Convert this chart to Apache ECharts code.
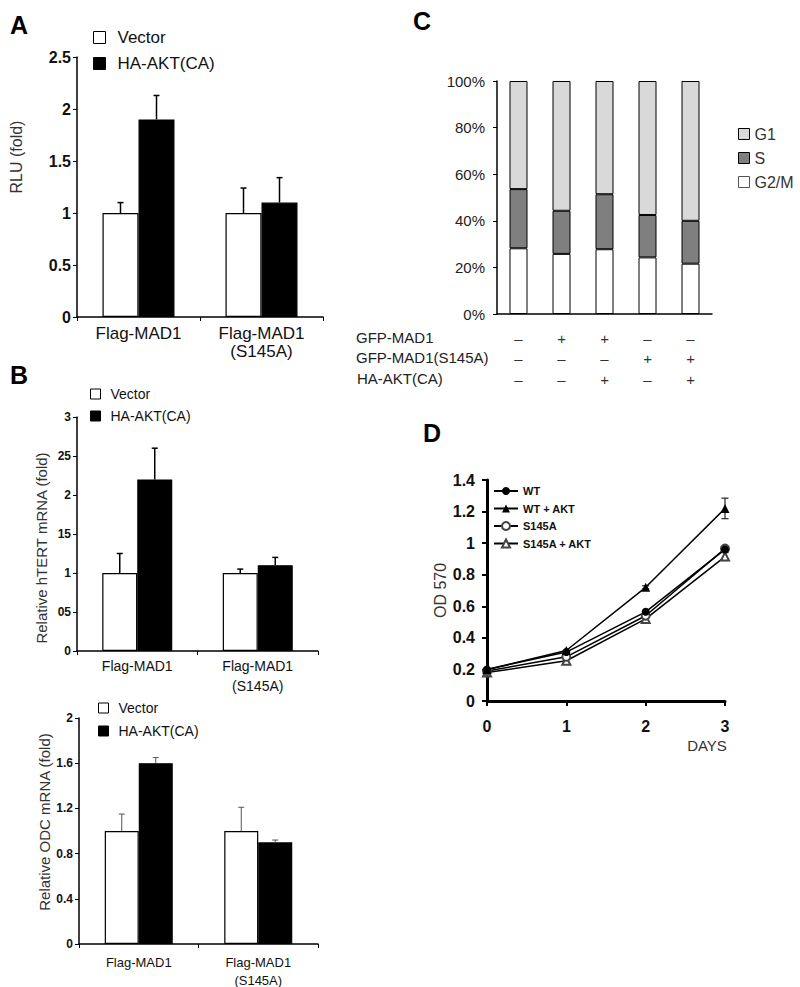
<!DOCTYPE html>
<html><head><meta charset="utf-8">
<script src="https://cdn.jsdelivr.net/npm/echarts@6/dist/echarts.min.js"></script>
<style>html,body{margin:0;padding:0;background:#fff}#c{width:800px;height:987px}</style>
</head><body><div id="c"></div>
<script>
// ---------------- data ----------------
const barCategories = ['Flag-MAD1', 'Flag-MAD1\n(S145A)'];
// Panel A : RLU (fold)
const aVector = [1.0, 1.0];
const aVectorErr = [0.1, 0.24];
const aAkt = [1.9, 1.1];
const aAktErr = [0.23, 0.24];
// Panel B (top) : hTERT
const bTertVector = [1.0, 1.0];
const bTertVectorErr = [0.25, 0.05];
const bTertAkt = [2.2, 1.1];
const bTertAktErr = [0.4, 0.1];
const bTertTickLabels = ['0', '05', '1', '15', '2', '25', '3'];
// Panel B (bottom) : ODC
const bOdcVector = [1.0, 1.0];
const bOdcVectorErr = [0.15, 0.21];
const bOdcAkt = [1.6, 0.9];
const bOdcAktErr = [0.05, 0.02];
// Panel C : cell-cycle distribution (%)
const cConditions = ['1', '2', '3', '4', '5'];
const cG2M = [28.2, 25.8, 27.8, 24.3, 21.6];
const cS = [25.4, 18.5, 23.6, 18.2, 18.4];
const cG1 = [46.4, 55.7, 48.6, 57.5, 60.0];
const cRowNames = ['GFP-MAD1', 'GFP-MAD1(S145A)', 'HA-AKT(CA)'];
const cGfpMad1 = ['–', '+', '+', '–', '–'];
const cGfpMad1S145A = ['–', '–', '–', '+', '+'];
const cHaAkt = ['–', '–', '+', '–', '+'];
// Panel D : OD 570 vs days
const dDays = [0, 1, 2, 3];
const dWT = [0.20, 0.31, 0.565, 0.96];
const dWTAkt = [0.20, 0.32, 0.72, 1.22];
const dS145A = [0.19, 0.28, 0.54, 0.965];
const dS145AAkt = [0.18, 0.255, 0.52, 0.915];
const dWTAktErr = [0, 0, 0.01, 0.065];
const dS145AAktErr = [0, 0, 0.02, 0.025];

// ---------------- chart ----------------
const FF = 'Liberation Sans, Arial, sans-serif';
const chart = echarts.init(document.getElementById('c'), null, {renderer: 'svg'});

function barErr(gi, v0, e0, v1, e1, barW, color, lw) {
  const data = [];
  v0.forEach((v, i) => data.push([i, v, v + e0[i], -1]));
  v1.forEach((v, i) => data.push([i, v, v + e1[i], 1]));
  return {
    type: 'custom', xAxisIndex: gi, yAxisIndex: gi, z: 5, silent: true,
    encode: {x: 0, y: [1, 2]}, data,
    renderItem(params, api) {
      const p0 = api.coord([api.value(0), api.value(1)]);
      const p1 = api.coord([api.value(0), api.value(2)]);
      const x = p0[0] + api.value(3) * barW / 2;
      return {type: 'group', children: [
        {type: 'line', shape: {x1: x, y1: p0[1], x2: x, y2: p1[1]}, style: {stroke: color, lineWidth: lw}},
        {type: 'line', shape: {x1: x - 3, y1: p1[1], x2: x + 3, y2: p1[1]}, style: {stroke: color, lineWidth: lw}}
      ]};
    }
  };
}
function lineErr(gi, xs, vals, errs) {
  const data = [];
  xs.forEach((x, i) => { if (errs[i] > 0) data.push([x, vals[i] - errs[i], vals[i] + errs[i]]); });
  return {
    type: 'custom', xAxisIndex: gi, yAxisIndex: gi, z: 1, silent: true,
    encode: {x: 0, y: [1, 2]}, data,
    renderItem(params, api) {
      const lo = api.coord([api.value(0), api.value(1)]);
      const hi = api.coord([api.value(0), api.value(2)]);
      const st = {stroke: '#222', lineWidth: 1.2};
      return {type: 'group', children: [
        {type: 'line', shape: {x1: lo[0], y1: lo[1], x2: hi[0], y2: hi[1]}, style: st},
        {type: 'line', shape: {x1: hi[0] - 3.5, y1: hi[1], x2: hi[0] + 3.5, y2: hi[1]}, style: st},
        {type: 'line', shape: {x1: lo[0] - 3.5, y1: lo[1], x2: lo[0] + 3.5, y2: lo[1]}, style: st}
      ]};
    }
  };
}

const axLine = (w) => ({show: true, lineStyle: {color: '#000', width: w}});
const tick = (len) => ({show: true, inside: false, length: len, lineStyle: {color: '#000', width: 1}});

function catAxis(gi, fs, lh, margin) {
  return {type: 'category', gridIndex: gi, data: barCategories, boundaryGap: true,
    axisLine: axLine(1.5), axisTick: Object.assign(tick(4), {alignWithLabel: false}),
    axisLabel: {fontFamily: FF, fontSize: fs, color: '#111', lineHeight: lh, margin: margin, interval: 0},
    splitLine: {show: false}};
}
function valAxis(gi, max, interval, fs, name, nameGap, namePad, nameFs, formatter) {
  const ax = {type: 'value', gridIndex: gi, min: 0, max: max, interval: interval,
    axisLine: axLine(1.5), axisTick: tick(4), splitLine: {show: false},
    axisLabel: {fontFamily: FF, fontSize: fs, fontWeight: 'bold', color: '#111', margin: 6},
    name: name, nameLocation: 'middle', nameGap: nameGap,
    nameTextStyle: {fontFamily: FF, fontSize: nameFs, color: '#333', padding: namePad}};
  if (formatter) ax.axisLabel.formatter = formatter;
  return ax;
}

function barLegend(left, top, fs, gap, pad) {
  return {left: left, top: top, orient: 'vertical', padding: 0, itemGap: gap,
    itemWidth: fs < 15 ? 10 : 12, itemHeight: fs < 15 ? 10 : 12, selectedMode: false,
    textStyle: {fontFamily: FF, fontSize: fs, color: '#111', lineHeight: fs, padding: [0, 0, 0, pad]},
    data: [
      {name: 'Vector', icon: 'rect', itemStyle: {color: '#fff', borderColor: '#000', borderWidth: 1}},
      {name: 'HA-AKT(CA)', icon: 'rect', itemStyle: {color: '#000', borderColor: '#000', borderWidth: 1}}
    ]};
}
function barPair(gi, vec, akt, w) {
  return [
    {name: 'Vector', type: 'bar', xAxisIndex: gi, yAxisIndex: gi, data: vec, barWidth: w, barGap: '0%',
      itemStyle: {color: '#fff', borderColor: '#000', borderWidth: 1.2}},
    {name: 'HA-AKT(CA)', type: 'bar', xAxisIndex: gi, yAxisIndex: gi, data: akt, barWidth: w, barGap: '0%',
      itemStyle: {color: '#000', borderColor: '#000', borderWidth: 1.2}}
  ];
}

const letter = (t, x, y) => ({type: 'text', left: x, top: y,
  style: {text: t, font: 'bold 25px ' + FF, fill: '#000'}});
const rowLabel = (t, x, y) => ({type: 'text', left: x, top: y,
  style: {text: t, font: '15px ' + FF, fill: '#222'}});

const option = {
  animation: false,
  backgroundColor: '#fff',
  textStyle: {fontFamily: FF},
  grid: [
    {left: 77, top: 57, width: 246, height: 260, outerBoundsMode: 'none'},
    {left: 77, top: 417, width: 241, height: 234, outerBoundsMode: 'none'},
    {left: 79, top: 718, width: 239, height: 226, outerBoundsMode: 'none'},
    {left: 497, top: 81, width: 215, height: 233, outerBoundsMode: 'none'},
    {left: 487, top: 480, width: 238, height: 221, outerBoundsMode: 'none'}
  ],
  legend: [
    barLegend(93, 29, 17, 9, 7),
    barLegend(90, 387, 14, 8, 5),
    barLegend(98, 701, 14, 9, 5),
    {left: 738, top: 126, orient: 'vertical', padding: 0, itemGap: 8, itemWidth: 11, itemHeight: 11,
      selectedMode: false,
      textStyle: {fontFamily: FF, fontSize: 16, color: '#333', lineHeight: 16},
      data: [
        {name: 'G1', icon: 'rect', itemStyle: {color: '#d9d9d9', borderColor: '#000', borderWidth: 1}},
        {name: 'S', icon: 'rect', itemStyle: {color: '#7f7f7f', borderColor: '#000', borderWidth: 1}},
        {name: 'G2/M', icon: 'rect', itemStyle: {color: '#fff', borderColor: '#555', borderWidth: 1}}
      ]},
    {left: 493, top: 485, orient: 'vertical', padding: 0, itemGap: 5.5, itemWidth: 24, itemHeight: 10,
      selectedMode: false,
      textStyle: {fontFamily: FF, fontSize: 11, fontWeight: 'bold', color: '#111', lineHeight: 12},
      data: ['WT', 'WT + AKT', 'S145A', 'S145A + AKT']}
  ],
  xAxis: [
    catAxis(0, 17, 18, 7),
    catAxis(1, 14, 20, 5),
    catAxis(2, 13, 18, 9),
    {type: 'category', gridIndex: 3, data: cConditions, boundaryGap: true,
      axisLine: axLine(1.5), axisTick: {show: false}, splitLine: {show: false},
      axisLabel: {fontFamily: FF, fontSize: 15, color: '#333', lineHeight: 20.5, margin: 14, interval: 0,
        formatter: (v, i) => cGfpMad1[i] + '\n' + cGfpMad1S145A[i] + '\n' + cHaAkt[i]}},
    {type: 'value', gridIndex: 4, min: 0, max: 3, interval: 1,
      axisLine: axLine(3), axisTick: {show: true, length: 5, lineStyle: {color: '#000', width: 2}},
      splitLine: {show: false},
      axisLabel: {fontFamily: FF, fontSize: 16, fontWeight: 'bold', color: '#111', margin: 17},
      name: 'DAYS', nameLocation: 'middle', nameGap: 37,
      nameTextStyle: {fontFamily: FF, fontSize: 15, color: '#333', padding: [0, 0, 0, 202]}}
  ],
  yAxis: [
    valAxis(0, 2.5, 0.5, 16, 'RLU (fold)', 53, [0, 0, 0, 60], 16),
    valAxis(1, 3, 0.5, 12, 'Relative hTERT mRNA (fold)', 28, [0, 28, 0, 0], 15,
      (v) => bTertTickLabels[Math.round(v / 0.5)]),
    valAxis(2, 2, 0.4, 12, 'Relative ODC mRNA (fold)', 25, [0, 0, 0, 18], 15),
    {type: 'value', gridIndex: 3, min: 0, max: 100, interval: 20,
      axisLine: axLine(1.5), axisTick: tick(4), splitLine: {show: false},
      axisLabel: {fontFamily: FF, fontSize: 15, color: '#222', margin: 12, formatter: '{value}%'}},
    {type: 'value', gridIndex: 4, min: 0, max: 1.4, interval: 0.2,
      axisLine: axLine(3), axisTick: {show: true, length: 5, lineStyle: {color: '#000', width: 2}},
      splitLine: {show: false},
      axisLabel: {fontFamily: FF, fontSize: 16, fontWeight: 'bold', color: '#111', margin: 12},
      name: 'OD 570', nameLocation: 'middle', nameGap: 37,
      nameTextStyle: {fontFamily: FF, fontSize: 16, color: '#333'}}
  ],
  series: [
    ...barPair(0, aVector, aAkt, 36),
    barErr(0, aVector, aVectorErr, aAkt, aAktErr, 36, '#000', 1.5),
    ...barPair(1, bTertVector, bTertAkt, 35),
    barErr(1, bTertVector, bTertVectorErr, bTertAkt, bTertAktErr, 35, '#000', 1.5),
    ...barPair(2, bOdcVector, bOdcAkt, 34),
    barErr(2, bOdcVector, bOdcVectorErr, bOdcAkt, bOdcAktErr, 34, '#555', 1),
    {name: 'G2/M', type: 'bar', stack: 'c', xAxisIndex: 3, yAxisIndex: 3, data: cG2M, barWidth: 18,
      itemStyle: {color: '#fff', borderColor: '#000', borderWidth: 1}},
    {name: 'S', type: 'bar', stack: 'c', xAxisIndex: 3, yAxisIndex: 3, data: cS, barWidth: 18,
      itemStyle: {color: '#7f7f7f', borderColor: '#000', borderWidth: 1}},
    {name: 'G1', type: 'bar', stack: 'c', xAxisIndex: 3, yAxisIndex: 3, data: cG1, barWidth: 18,
      itemStyle: {color: '#d9d9d9', borderColor: '#000', borderWidth: 1}},
    lineErr(4, dDays, dWTAkt, dWTAktErr),
    lineErr(4, dDays, dS145AAkt, dS145AAktErr),
    {name: 'S145A + AKT', type: 'line', xAxisIndex: 4, yAxisIndex: 4, data: dDays.map((d, i) => [d, dS145AAkt[i]]),
      symbol: 'emptyTriangle', symbolSize: 8, lineStyle: {color: '#000', width: 1.5},
      itemStyle: {color: '#444', borderWidth: 1}},
    {name: 'S145A', type: 'line', xAxisIndex: 4, yAxisIndex: 4, data: dDays.map((d, i) => [d, dS145A[i]]),
      symbol: 'emptyCircle', symbolSize: 8, lineStyle: {color: '#000', width: 1.5},
      itemStyle: {color: '#444', borderWidth: 1}},
    {name: 'WT', type: 'line', xAxisIndex: 4, yAxisIndex: 4, data: dDays.map((d, i) => [d, dWT[i]]),
      symbol: 'circle', symbolSize: 8, lineStyle: {color: '#000', width: 1.5}, itemStyle: {color: '#000'}},
    {name: 'WT + AKT', type: 'line', xAxisIndex: 4, yAxisIndex: 4, data: dDays.map((d, i) => [d, dWTAkt[i]]),
      symbol: 'triangle', symbolSize: 9, lineStyle: {color: '#000', width: 1.5}, itemStyle: {color: '#000'}}
  ],
  graphic: [
    letter('A', 10, 12),
    letter('B', 10, 362),
    letter('C', 413, 8),
    letter('D', 423, 420),
    rowLabel(cRowNames[0], 356, 330),
    rowLabel(cRowNames[1], 356, 350),
    rowLabel(cRowNames[2], 357, 371)
  ]
};
chart.setOption(option);
</script>
</body></html>
